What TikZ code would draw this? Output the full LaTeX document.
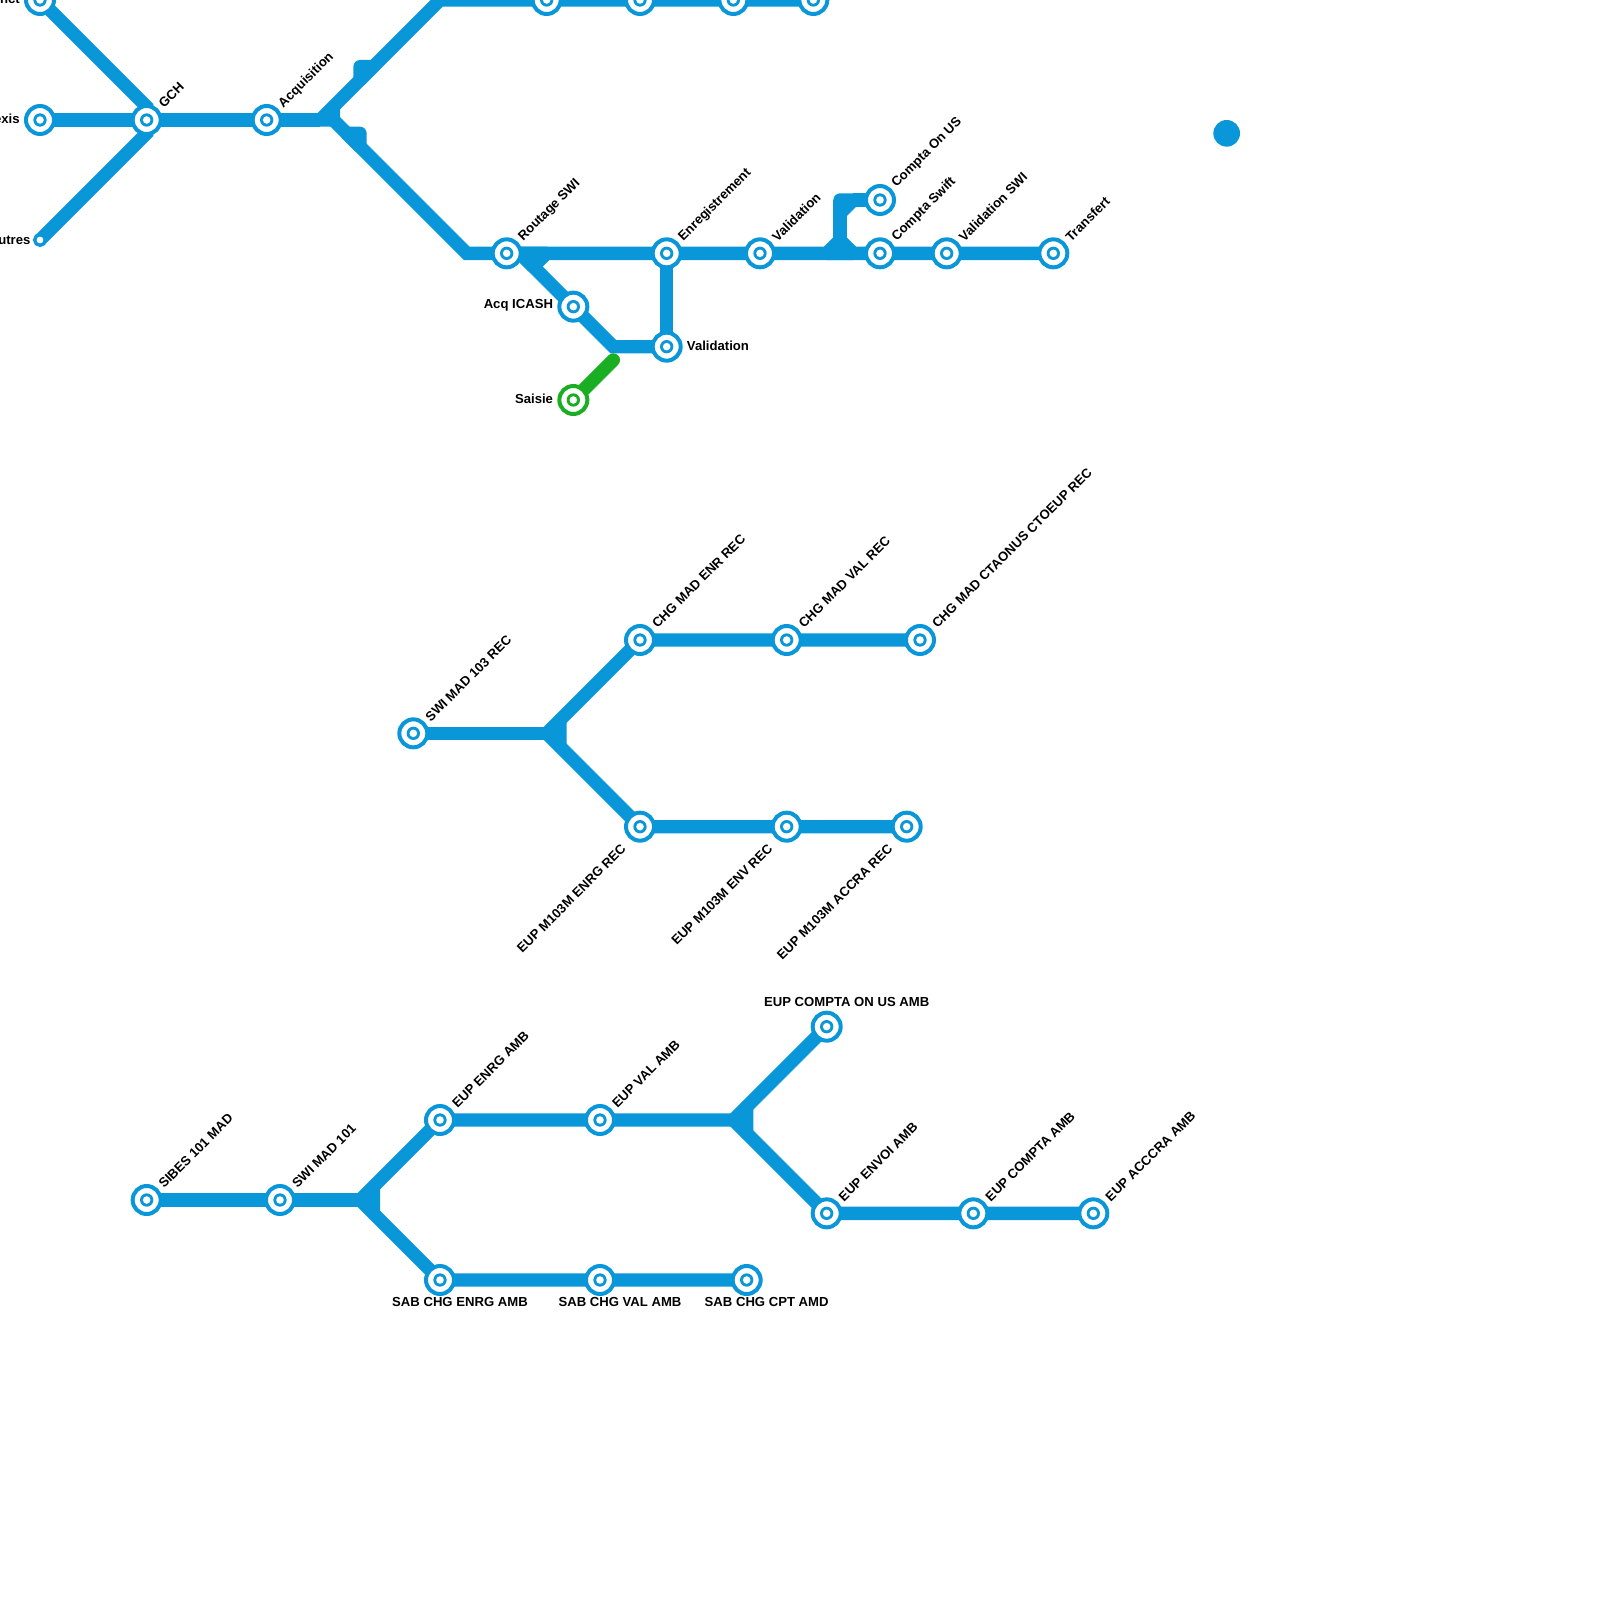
\documentclass[tikz,border=0pt]{standalone}
\usepackage{fontspec}
\setmainfont{Liberation Sans}
\usepackage{tikz}
\usetikzlibrary{positioning,backgrounds}
\definecolor{metroblue}{HTML}{0A97D9}
\definecolor{metrogreen}{HTML}{1AAE22}

\begin{document}
\begin{tikzpicture}[
    x=0.3cm,y=-0.3cm,
    stop/.style={circle,draw=#1,fill=white,line width=0.09cm,minimum size=0.63cm,inner sep=0pt,
        path picture={\fill[#1] (path picture bounding box.center) circle (0.15cm);
                      \fill[white] (path picture bounding box.center) circle (0.085cm);}},
    stop/.default=metroblue,
    endstop/.style={circle,draw=metroblue,fill=white,line width=0.075cm,minimum size=0.24cm,inner sep=0pt},
    track/.style={draw=metroblue,line width=0.3cm},
    joint/.style={track,fill=metroblue,line join=round},
    tag/.style={font=\fontsize{8.4}{10}\selectfont\bfseries,inner sep=0pt,text=black},
    tagup/.style={tag,rotate=45,anchor=west,xshift=0.45cm},
    tagdown/.style={tag,rotate=45,anchor=east,xshift=-0.57cm,yshift=-0.05cm},
    tagleft/.style={tag,anchor=east,xshift=-0.45cm,yshift=0.02cm},
    tagright/.style={tag,anchor=west,xshift=0.45cm,yshift=0.02cm}
]
\useasboundingbox (0,0) rectangle (120,120);

% top network
\node[stop] (Direct) at (3,0) {};
\node[stop] (Lexis) at (3,9) {};
\node[endstop] (Autres) at (3,18) {};
\node[stop] (GCH) at (11,9) {};
\node[stop] (Acquisition) at (20,9) {};
\node[stop] (TopA) at (41,0) {};
\node[stop] (TopB) at (48,0) {};
\node[stop] (TopC) at (55,0) {};
\node[stop] (TopD) at (61,0) {};
\node[stop] (RoutageSWI) at (38,19) {};
\node[stop] (Enregistrement) at (50,19) {};
\node[stop] (ValidationTop) at (57,19) {};
\node[stop] (ComptaSwift) at (66,19) {};
\node[stop] (ComptaOnUS) at (66,15) {};
\node[stop] (ValidationSWI) at (71,19) {};
\node[stop] (Transfert) at (79,19) {};
\node[stop] (AcqICASH) at (43,23) {};
\node[stop] (ValidationLow) at (50,26) {};
\node[stop=metrogreen] (Saisie) at (43,30) {};
\node[circle,fill=metroblue,minimum size=0.6cm,inner sep=0pt] (Dot) at (92,10) {};

\coordinate (gchUp) at (11,8);
\coordinate (gchDown) at (11,10);
\coordinate (forkTop) at (24,9);
\coordinate (forkUp) at (25,8);
\coordinate (forkDown) at (25,9);
\coordinate (bendTop) at (33,0);
\coordinate (bendRoute) at (35,19);
\coordinate (upA) at (27,6);
\coordinate (upB) at (27,5);
\coordinate (upC) at (28,5);
\coordinate (downA) at (26,10);
\coordinate (downB) at (27,10);
\coordinate (downC) at (27,11);
\coordinate (acqA) at (39,19);
\coordinate (acqB) at (41,19);
\coordinate (acqC) at (40,20);
\coordinate (bendLow) at (46,26);
\coordinate (greenEnd) at (46,27);
\coordinate (usA) at (62,19);
\coordinate (usB) at (64,19);
\coordinate (usC) at (63,18);
\coordinate (usD) at (63,15);
\coordinate (usE) at (64,15);
\coordinate (usF) at (63,16);

% middle network
\node[stop] (SwiRec) at (31,55) {};
\node[stop] (ChgEnr) at (48,48) {};
\node[stop] (ChgVal) at (59,48) {};
\node[stop] (ChgCta) at (69,48) {};
\node[stop] (EupEnrg) at (48,62) {};
\node[stop] (EupEnv) at (59,62) {};
\node[stop] (EupAccra) at (68,62) {};
\coordinate (midA) at (41,55);
\coordinate (midB) at (42,54);
\coordinate (midC) at (42,56);

% bottom network
\node[stop] (Sibes) at (11,90) {};
\node[stop] (SwiMad) at (21,90) {};
\node[stop] (EupEnrgAmb) at (33,84) {};
\node[stop] (EupValAmb) at (45,84) {};
\node[stop] (EupOnUs) at (62,77) {};
\node[stop] (EupEnvoi) at (62,91) {};
\node[stop] (EupCompta) at (73,91) {};
\node[stop] (EupAcccra) at (82,91) {};
\node[stop] (SabEnrg) at (33,96) {};
\node[stop] (SabVal) at (45,96) {};
\node[stop] (SabCpt) at (56,96) {};
\coordinate (lowA) at (27,90);
\coordinate (lowB) at (28,89);
\coordinate (lowC) at (28,91);
\coordinate (rigA) at (55,84);
\coordinate (rigB) at (56,83);
\coordinate (rigC) at (56,85);

\begin{scope}[on background layer]
\draw[track] (Direct.center) -- (gchUp) -- (GCH.center);
\draw[track] (Autres.center) -- (gchDown) -- (GCH.center);
\draw[track] (Lexis.center) -- (GCH.center) -- (Acquisition.center) -- (forkTop);
\draw[joint] (forkTop) -- (forkUp) -- (forkDown) -- cycle;
\draw[track] (forkUp) -- (bendTop) -- (TopA.center) -- (TopB.center) -- (TopC.center) -- (TopD.center);
\draw[track] (forkDown) -- (bendRoute) -- (RoutageSWI.center) -- (Enregistrement.center) -- (ValidationTop.center) -- (ComptaSwift.center) -- (ValidationSWI.center) -- (Transfert.center);
\draw[joint] (upA) -- (upB) -- (upC) -- cycle;
\draw[joint] (downA) -- (downB) -- (downC) -- cycle;
\draw[joint] (acqA) -- (acqB) -- (acqC) -- cycle;
\draw[track] (acqA) -- (AcqICASH.center) -- (bendLow) -- (ValidationLow.center);
\draw[track] (Enregistrement.center) -- (ValidationLow.center);
\draw[joint] (usA) -- (usC) -- (usB) -- cycle;
\draw[track] (usC) -- (usD);
\draw[joint] (usD) -- (usE) -- (usF) -- cycle;
\draw[track] (usE) -- (ComptaOnUS.center);
\draw[draw=metrogreen,line width=0.3cm,line cap=round] (Saisie.center) -- (greenEnd);

\draw[track] (SwiRec.center) -- (midA);
\draw[joint] (midA) -- (midB) -- (midC) -- cycle;
\draw[track] (midB) -- (ChgEnr.center) -- (ChgVal.center) -- (ChgCta.center);
\draw[track] (midC) -- (EupEnrg.center) -- (EupEnv.center) -- (EupAccra.center);

\draw[track] (Sibes.center) -- (SwiMad.center) -- (lowA);
\draw[joint] (lowA) -- (lowB) -- (lowC) -- cycle;
\draw[track] (lowB) -- (EupEnrgAmb.center) -- (EupValAmb.center) -- (rigA);
\draw[track] (lowC) -- (SabEnrg.center) -- (SabVal.center) -- (SabCpt.center);
\draw[joint] (rigA) -- (rigB) -- (rigC) -- cycle;
\draw[track] (rigB) -- (EupOnUs.center);
\draw[track] (rigC) -- (EupEnvoi.center) -- (EupCompta.center) -- (EupAcccra.center);
\end{scope}

% labels
\node[tagleft] (tagDirect) at (Direct) {nct};
\node[tagleft] (tagLexis) at (Lexis) {exis};
\node[tag,anchor=east,xshift=-0.21cm] (tagAutres) at (Autres) {utres};
\node[tagup] (tagGCH) at (GCH) {GCH};
\node[tagup] (tagAcq) at (Acquisition) {Acquisition};
\node[tagup] (tagRoutage) at (RoutageSWI) {Routage SWI};
\node[tagup] (tagEnr) at (Enregistrement) {Enregistrement};
\node[tagup] (tagVal) at (ValidationTop) {Validation};
\node[tagup] (tagUS) at (ComptaOnUS) {Compta On US};
\node[tagup] (tagSwift) at (ComptaSwift) {Compta Swift};
\node[tagup] (tagValSwi) at (ValidationSWI) {Validation SWI};
\node[tagup] (tagTransfert) at (Transfert) {Transfert};
\node[tagleft] (tagICASH) at (AcqICASH) {Acq ICASH};
\node[tagright] (tagValLow) at (ValidationLow) {Validation};
\node[tagleft] (tagSaisie) at (Saisie) {Saisie};

\node[tagup] (tagSwiRec) at (SwiRec) {SWI MAD 103 REC};
\node[tagup] (tagChgEnr) at (ChgEnr) {CHG MAD ENR REC};
\node[tagup] (tagChgVal) at (ChgVal) {CHG MAD VAL REC};
\node[tagup] (tagChgCta) at (ChgCta) {CHG MAD CTAONUS CTOEUP REC};
\node[tagdown] (tagEupEnrg) at (EupEnrg) {EUP M103M ENRG REC};
\node[tagdown] (tagEupEnv) at (EupEnv) {EUP M103M ENV REC};
\node[tagdown] (tagEupAccra) at (EupAccra) {EUP M103M ACCRA REC};

\node[tagup] (tagSibes) at (Sibes) {SIBES 101 MAD};
\node[tagup] (tagSwiMad) at (SwiMad) {SWI MAD 101};
\node[tagup] (tagEupEnrgAmb) at (EupEnrgAmb) {EUP ENRG AMB};
\node[tagup] (tagEupValAmb) at (EupValAmb) {EUP VAL AMB};
\node[tag,xshift=0.45cm,yshift=0.55cm] (tagOnUs) at (EupOnUs) {EUP COMPTA ON US AMB};
\node[tagup] (tagEnvoi) at (EupEnvoi) {EUP ENVOI AMB};
\node[tagup] (tagCompta) at (EupCompta) {EUP COMPTA AMB};
\node[tagup] (tagAcccra) at (EupAcccra) {EUP ACCCRA AMB};
\node[tag,xshift=0.45cm,yshift=-0.5cm] (tagSabEnrg) at (SabEnrg) {SAB CHG ENRG AMB};
\node[tag,xshift=0.45cm,yshift=-0.5cm] (tagSabVal) at (SabVal) {SAB CHG VAL AMB};
\node[tag,xshift=0.45cm,yshift=-0.5cm] (tagSabCpt) at (SabCpt) {SAB CHG CPT AMD};

\end{tikzpicture}
\end{document}
